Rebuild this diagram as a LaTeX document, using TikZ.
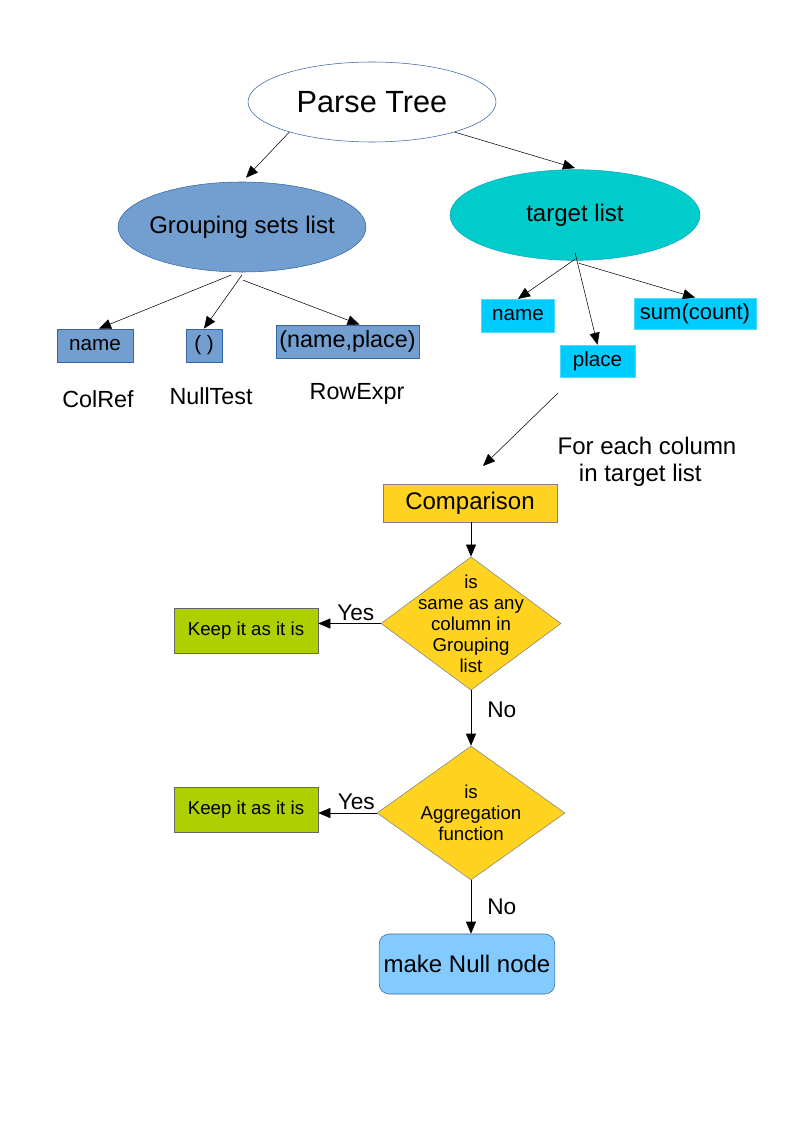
\documentclass[tikz,border=0pt]{standalone}
\usepackage{fontspec}
\setmainfont{Liberation Sans}
\usetikzlibrary{shapes.geometric,arrows.meta}
\definecolor{lineblue}{HTML}{3465A4}
\definecolor{grpblue}{HTML}{729FCF}
\definecolor{tgtteal}{HTML}{00CCCC}
\definecolor{tgtcyan}{HTML}{00CCFF}
\definecolor{gold}{HTML}{FFD320}
\definecolor{leaf}{HTML}{AECF00}
\definecolor{nullblue}{HTML}{83CAFF}
\newcommand{\fsz}[2]{\fontsize{#1}{#2}\selectfont}

\begin{document}
\begin{tikzpicture}[x=0.75pt, y=-0.75pt,
    oval/.style = {draw=lineblue, ellipse, inner ysep=0pt, inner xsep=-8pt, font=\fsz{18pt}{21pt}},
    grpbox/.style = {draw=lineblue, fill=grpblue, inner sep=0pt, font=\fsz{15.5pt}{18pt}},
    tgtbox/.style = {draw=tgtcyan!70!white, fill=tgtcyan, inner sep=0pt, font=\fsz{15.5pt}{18pt}},
    kind/.style = {font=\fsz{17.5pt}{20pt}},
    cmpbox/.style = {draw=gray, fill=gold, inner sep=0pt},
    dia/.style = {draw=gray, fill=gold, diamond, inner sep=0pt},
    keepbox/.style = {draw=gray!80!black, fill=leaf, minimum width=108pt, minimum height=34pt, font=\fsz{14pt}{16pt}},
    lbl/.style = {font=\fsz{17pt}{20pt}, inner sep=2pt},
    arr/.style = {-{Triangle[length=9pt, width=7.5pt]}, thin}]
  \useasboundingbox (0,0) rectangle (794,1123);
  % top of the tree
  \node[oval, fill=white, minimum width=186pt, minimum height=60pt, font=\fsz{23pt}{26pt}] (pt) at (372,102) {Parse Tree};
  \node[oval, fill=grpblue, minimum width=186pt, minimum height=67.5pt] (gsl) at (242,227) {Grouping sets list};
  \node[oval, fill=tgtteal, draw=tgtteal!60!lineblue, minimum width=187.5pt, minimum height=68pt] (tl) at (575,215) {target list};
  \draw[arr] (pt.200) -- ([xshift=3pt,yshift=3pt]gsl.north);
  \draw[arr] (pt.-20) -- ([yshift=1pt]tl.north);
  % grouping sets
  \node[grpbox, minimum width=57pt, minimum height=25pt] (g1) at (95,345.5) {name};
  \node[grpbox, minimum width=27pt, minimum height=25pt] (g2) at (204,345.5) {( )};
  \node[grpbox, minimum width=107pt, minimum height=25pt, font=\fsz{17.5pt}{20pt}] (g3) at (347.5,341.5) {(name,place)};
  \node[kind] (k1) at (98,399) {ColRef};
  \node[kind] (k2) at (211,396) {NullTest};
  \node[kind] (k3) at (357,394) {RowExpr};
  \draw[arr] ([xshift=-8pt,yshift=-2pt]gsl.south) -- ([xshift=3pt]g1.north);
  \draw[arr] ([yshift=-2pt]gsl.south) -- (g2.north);
  \draw[arr] ([xshift=1pt,yshift=-6pt]gsl.south) -- ([xshift=9pt]g3.north);
  % target list
  \node[tgtbox, minimum width=55pt, minimum height=24.5pt] (t1) at (518,315.5) {name};
  \node[tgtbox, minimum width=56pt, minimum height=24pt] (t2) at (597.5,361) {place};
  \node[tgtbox, minimum width=91.5pt, minimum height=23.5pt, font=\fsz{16.5pt}{19pt}] (t3) at (695,313.5) {sum(count)};
  \draw[arr] ([yshift=1pt]tl.south) -- (t1.north);
  \draw[arr] ([yshift=6pt]tl.south) -- (t2.north);
  \draw[arr] ([xshift=3pt,yshift=-2pt]tl.south) -- (t3.north);
  % loop over the columns
  \coordinate (c1) at (558,393);
  \coordinate (c2) at (483,466);
  \draw[arr] (c1) -- (c2);
  \node[align=center, font=\fsz{18pt}{20pt}] (each) at (647,462) {For each column\\ in target list\hspace*{10pt}};
  \node[cmpbox, minimum width=130.5pt, minimum height=28.5pt, font=\fsz{18pt}{21pt}] (cmp) at (470,503) {Comparison};
  \node[dia, minimum width=135pt, minimum height=100pt,
        label={[align=center, font=\fsz{14pt}{15.7pt}]center:is\\ same as any\\ column in\\ Grouping\\ list}] (d1) at (471,623.5) {};
  \node[dia, minimum width=141pt, minimum height=100.5pt,
        label={[align=center, font=\fsz{14pt}{15.7pt}]center:is\\ Aggregation\\ function}] (d2) at (471,813) {};
  \node[keepbox] (keep1) at (246,631) {Keep it as it is};
  \node[keepbox] (keep2) at (246,809.5) {Keep it as it is};
  \node[draw=lineblue, fill=nullblue, rounded corners=7.5pt, minimum width=127.5pt, minimum height=45pt, font=\fsz{18pt}{21pt}] (null) at (467,964) {make Null node};
  \draw[arr] (cmp.south -| d1.north) -- (d1.north);
  \draw[arr] (d1.west) -- node[lbl, above, pos=0.4] {Yes} (d1.west -| keep1.east);
  \draw[arr] (d1) -- node[lbl, right, pos=0.35, xshift=10pt] {No} (d2);
  \draw[arr] (d2.west) -- node[lbl, above, pos=0.35] {Yes} (d2.west -| keep2.east);
  \draw[arr] (d2.south) -- node[lbl, right, pos=0.5, xshift=10pt] {No} (d2.south |- null.north);
\end{tikzpicture}
\end{document}
